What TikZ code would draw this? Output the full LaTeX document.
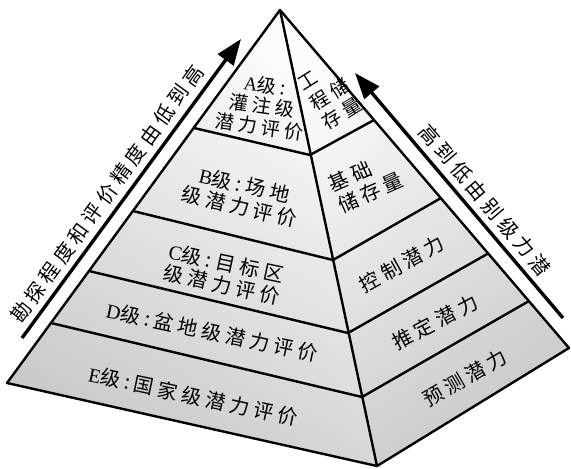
\documentclass[tikz,border=0pt]{standalone}
\usepackage{fontspec}
\setmainfont{Liberation Serif}
\newfontfamily\cjk[LetterSpace=22]{Noto Sans CJK SC}
\usetikzlibrary{arrows.meta}
\newcommand\latn[1]{{\rmfamily #1}}
\tikzset{
  pyr/.style={line width=2.4pt, line join=round},
  arr/.style={line width=3.4pt, -{Triangle[length=26pt,width=19pt]}},
  lbl/.style={font=\cjk\fontsize{20}{22}\selectfont, align=center, inner sep=0pt},
  albl/.style={font=\cjk\fontsize{20}{22}\selectfont, inner sep=0pt},
  sbl/.style={font=\cjk\fontsize{19}{21}\selectfont, inner sep=0pt},
}
\begin{document}
\begin{tikzpicture}[x=1pt,y=-1pt]
\useasboundingbox (0,0) rectangle (571,469);
\fill[white] (0,0) rectangle (571,469);
% pyramid corners
\coordinate (T) at (280,10);
\coordinate (L) at (7,383);
\coordinate (F) at (377,466);
\coordinate (R) at (569,348);
% left edge
\coordinate (l1) at (194,128);
\coordinate (l2) at (133,211);
\coordinate (l3) at (89,271);
\coordinate (l4) at (51,323);
% ridge
\coordinate (m1) at (310,155);
\coordinate (m2) at (333,260);
\coordinate (m3) at (348,333);
\coordinate (m4) at (362,397);
% right edge
\coordinate (r1) at (374,120);
\coordinate (r2) at (441,198);
\coordinate (r3) at (489,253);
\coordinate (r4) at (529,301);
% faces
\shade[top color=gray!2, bottom color=gray!42, shading angle=-30] (T)--(L)--(F)--cycle;
\shade[top color=gray!2, bottom color=gray!42, shading angle=35] (T)--(F)--(R)--cycle;
\draw[pyr] (T)--(L)--(F)--(R)--cycle;
\draw[pyr] (T)--(F);
\draw[pyr] (l1)--(m1)--(r1);
\draw[pyr] (l2)--(m2)--(r2);
\draw[pyr] (l3)--(m3)--(r3);
\draw[pyr] (l4)--(m4)--(r4);
% arrows
\coordinate (a1s) at (22,338);
\coordinate (a1e) at (241,39);
\coordinate (a2s) at (563,318);
\coordinate (a2e) at (355,73);
\draw[arr] (a1s)--(a1e);
\draw[arr] (a2s)--(a2e);
\node[albl, rotate=54] (lt) at (107,194) {勘探程度和评价精度由低到高};
\node[albl, rotate=-49.7] (rt) at (485,200) {高到低由别级力潜};
% left face texts
\node[sbl, align=center, rotate=-8] (ta) at (262,106) {\latn{A}级:\\灌注级\\潜力评价};
\node[lbl, rotate=-13] (tb) at (242,196) {\latn{B}级:场地\\级潜力评价};
\node[lbl, rotate=-12] (tc) at (224,274) {\latn{C}级:目标区\\级潜力评价};
\node[lbl, rotate=-12] (td) at (212,332) {\latn{D}级:盆地级潜力评价};
\node[lbl, rotate=-12] (te) at (193,396) {\latn{E}级:国家级潜力评价};
% right face texts
\node[font=\cjk\fontsize{19}{23}\selectfont, inner sep=0pt, align=left, rotate=32] (t1) at (330,95) {工\\程储\\存量};
\node[font=\cjk\fontsize{20}{23}\selectfont, inner sep=0pt, align=left, rotate=24] (t2) at (366,182) {基础\\储存量};
\node[lbl, rotate=29] (t3) at (402,264) {控制潜力};
\node[lbl, rotate=28] (t4) at (435,322) {推定潜力};
\node[lbl, rotate=30] (t5) at (465,378) {预测潜力};
\end{tikzpicture}
\end{document}
